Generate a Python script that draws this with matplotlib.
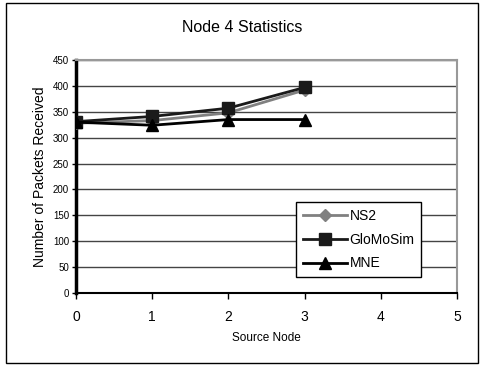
import matplotlib
matplotlib.use("Agg")
import matplotlib.pyplot as plt
from matplotlib.patches import Rectangle

plt.rcParams['font.family'] = ['Liberation Sans', 'DejaVu Sans']

# data
source_node = [0, 1, 2, 3]
ns2 = [328, 333, 348, 392]
glomosim = [331, 341, 357, 397]
mne = [330, 324, 335, 335]

fig = plt.figure(figsize=(4.84, 3.66), dpi=100)
ax = fig.add_axes([0.157, 0.1995, 0.787, 0.6365])

# outer chart border
fig.patches.append(Rectangle((0.013, 0.008), 0.975, 0.985, transform=fig.transFigure,
                             fill=False, edgecolor='black', linewidth=1.0))

ax.plot(source_node, ns2, color='#808080', marker='D', markersize=6, linewidth=2, label='NS2', zorder=3)
ax.plot(source_node, glomosim, color='#1a1a1a', marker='s', markersize=9, linewidth=2, label='GloMoSim', zorder=4)
ax.plot(source_node, mne, color='black', marker='^', markersize=9, linewidth=2, label='MNE', zorder=5)

ax.set_xlim(0, 5)
ax.set_ylim(0, 450)
ax.set_xticks(range(0, 6))
ax.set_yticks(range(0, 451, 50))
ax.yaxis.grid(True, color='#444444', linewidth=1)
ax.set_axisbelow(True)

ax.spines['left'].set_linewidth(2.5)
ax.spines['left'].set_color('black')
ax.spines['bottom'].set_linewidth(1.5)
ax.spines['bottom'].set_color('black')
ax.spines['top'].set_color('#999999')
ax.spines['top'].set_linewidth(1.5)
ax.spines['right'].set_color('#999999')
ax.spines['right'].set_linewidth(1.5)

ax.tick_params(axis='y', labelsize=7, length=3, width=1, pad=2)
ax.tick_params(axis='x', labelsize=10, length=4, width=1, pad=8)

ax.set_xlabel('Source Node', fontsize=8.5, labelpad=6)
ax.set_ylabel('Number of Packets Received', fontsize=10, labelpad=4)
fig.suptitle('Node 4 Statistics', fontsize=11.5, y=0.945)

leg = ax.legend(loc='upper left', bbox_to_anchor=(296 / 484, 1 - 202 / 366), bbox_transform=fig.transFigure,
                fancybox=False, edgecolor='black', fontsize=10, handlelength=3.2, handletextpad=0.15,
                borderpad=0.5, labelspacing=0.7, framealpha=1, borderaxespad=0)
leg.get_frame().set_linewidth(1)

fig.savefig('out.png', dpi=100)
